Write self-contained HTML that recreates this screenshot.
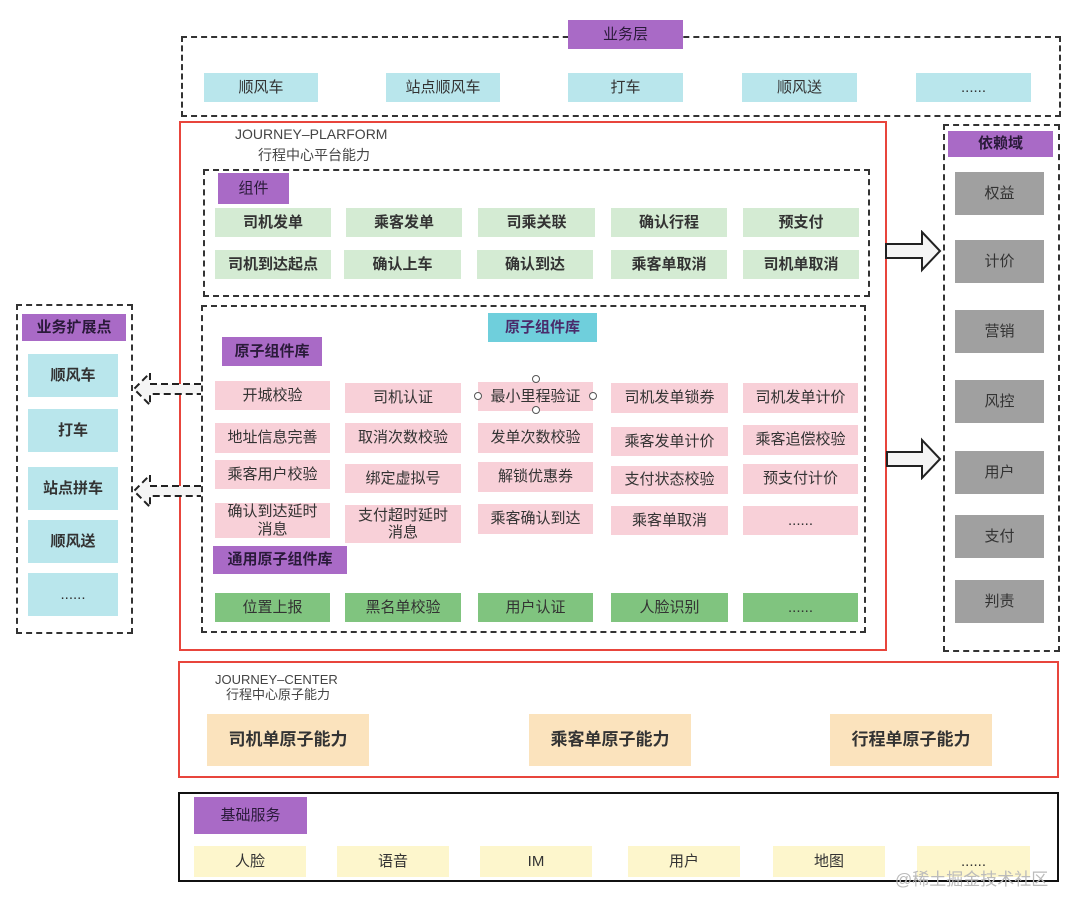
<!DOCTYPE html>
<html><head><meta charset="utf-8"><style>
body{margin:0;width:1080px;height:916px;background:#fff;position:relative;overflow:hidden;font-family:"Liberation Sans","Noto Sans CJK SC",sans-serif;}
.b{position:absolute;display:flex;align-items:center;justify-content:center;text-align:center;font-size:15px;color:#333;box-sizing:border-box;line-height:1.15}
.d{position:absolute;border:2px dashed #333;box-sizing:border-box}
.r{position:absolute;border:2.5px solid #e8453c;box-sizing:border-box}
.c{background:#b9e6ec}.p{background:#a96ac6;color:#2a1a3a}.g{background:#d4ebd3;font-weight:bold}.k{background:#f8d0d8}.gg{background:#80c47f}.gr{background:#a0a0a0;color:#333}.o{background:#fbe3bd;font-size:17px;font-weight:bold}.y{background:#fdf6cc}
.t{position:absolute;font-size:14px;color:#444;line-height:1.1}
</style></head><body>
<div class="d" style="left:181px;top:36px;width:880px;height:81px"></div>
<div class="b p" style="left:568px;top:20px;width:115px;height:29px">业务层</div>
<div class="b c" style="left:204px;top:73px;width:114px;height:29px">顺风车</div>
<div class="b c" style="left:386px;top:73px;width:114px;height:29px">站点顺风车</div>
<div class="b c" style="left:568px;top:73px;width:115px;height:29px">打车</div>
<div class="b c" style="left:742px;top:73px;width:115px;height:29px">顺风送</div>
<div class="b c" style="left:916px;top:73px;width:115px;height:29px">......</div>

<div class="r" style="left:179px;top:121px;width:708px;height:530px"></div>
<div class="t" style="left:235px;top:127px">JOURNEY–PLARFORM</div>
<div class="t" style="left:258px;top:148px">行程中心平台能力</div>
<div class="d" style="left:203px;top:169px;width:667px;height:128px"></div>
<div class="b p" style="left:218px;top:173px;width:71px;height:31px">组件</div>
<div class="b g" style="left:215px;top:208px;width:116px;height:29px">司机发单</div>
<div class="b g" style="left:346px;top:208px;width:116px;height:29px">乘客发单</div>
<div class="b g" style="left:478px;top:208px;width:117px;height:29px">司乘关联</div>
<div class="b g" style="left:611px;top:208px;width:116px;height:29px">确认行程</div>
<div class="b g" style="left:743px;top:208px;width:116px;height:29px">预支付</div>
<div class="b g" style="left:215px;top:250px;width:116px;height:29px">司机到达起点</div>
<div class="b g" style="left:344px;top:250px;width:117px;height:29px">确认上车</div>
<div class="b g" style="left:477px;top:250px;width:116px;height:29px">确认到达</div>
<div class="b g" style="left:611px;top:250px;width:116px;height:29px">乘客单取消</div>
<div class="b g" style="left:743px;top:250px;width:116px;height:29px">司机单取消</div>

<div class="d" style="left:201px;top:305px;width:665px;height:328px"></div>
<div class="b" style="left:488px;top:313px;width:109px;height:29px;background:#6fcfdc;color:#4a2b6a;font-weight:bold">原子组件库</div>
<div class="b p" style="left:222px;top:337px;width:100px;height:29px;font-weight:bold">原子组件库</div>
<div class="b k" style="left:215px;top:381px;width:115px;height:29px">开城校验</div>
<div class="b k" style="left:345px;top:383px;width:116px;height:30px">司机认证</div>
<div class="b k" style="left:478px;top:382px;width:115px;height:29px">最小里程验证</div>
<div class="b k" style="left:611px;top:383px;width:117px;height:30px">司机发单锁券</div>
<div class="b k" style="left:743px;top:383px;width:115px;height:30px">司机发单计价</div>
<div class="b k" style="left:215px;top:423px;width:115px;height:30px">地址信息完善</div>
<div class="b k" style="left:345px;top:423px;width:116px;height:30px">取消次数校验</div>
<div class="b k" style="left:478px;top:423px;width:115px;height:30px">发单次数校验</div>
<div class="b k" style="left:611px;top:427px;width:117px;height:29px">乘客发单计价</div>
<div class="b k" style="left:743px;top:425px;width:115px;height:30px">乘客追偿校验</div>
<div class="b k" style="left:215px;top:460px;width:115px;height:29px">乘客用户校验</div>
<div class="b k" style="left:345px;top:464px;width:116px;height:29px">绑定虚拟号</div>
<div class="b k" style="left:478px;top:462px;width:115px;height:30px">解锁优惠券</div>
<div class="b k" style="left:611px;top:466px;width:117px;height:28px">支付状态校验</div>
<div class="b k" style="left:743px;top:464px;width:115px;height:30px">预支付计价</div>
<div class="b k" style="left:215px;top:503px;width:115px;height:35px">确认到达延时<br>消息</div>
<div class="b k" style="left:345px;top:505px;width:116px;height:38px">支付超时延时<br>消息</div>
<div class="b k" style="left:478px;top:504px;width:115px;height:30px">乘客确认到达</div>
<div class="b k" style="left:611px;top:506px;width:117px;height:29px">乘客单取消</div>
<div class="b k" style="left:743px;top:506px;width:115px;height:29px">......</div>
<svg style="position:absolute;left:470px;top:374px" width="132" height="46"><g fill="#fff" stroke="#555" stroke-width="1"><circle cx="66" cy="5" r="3.5"/><circle cx="66" cy="36" r="3.5"/><circle cx="8" cy="22" r="3.5"/><circle cx="123" cy="22" r="3.5"/></g></svg>
<div class="b p" style="left:213px;top:546px;width:134px;height:28px;font-weight:bold">通用原子组件库</div>
<div class="b gg" style="left:215px;top:593px;width:115px;height:29px">位置上报</div>
<div class="b gg" style="left:345px;top:593px;width:116px;height:29px">黑名单校验</div>
<div class="b gg" style="left:478px;top:593px;width:115px;height:29px">用户认证</div>
<div class="b gg" style="left:611px;top:593px;width:117px;height:29px">人脸识别</div>
<div class="b gg" style="left:743px;top:593px;width:115px;height:29px">......</div>

<div class="d" style="left:16px;top:304px;width:117px;height:330px"></div>
<div class="b p" style="left:22px;top:314px;width:104px;height:27px;font-weight:bold">业务扩展点</div>
<div class="b c" style="left:28px;top:354px;width:90px;height:43px;font-weight:bold">顺风车</div>
<div class="b c" style="left:28px;top:409px;width:90px;height:43px;font-weight:bold">打车</div>
<div class="b c" style="left:28px;top:467px;width:90px;height:43px;font-weight:bold">站点拼车</div>
<div class="b c" style="left:28px;top:520px;width:90px;height:43px;font-weight:bold">顺风送</div>
<div class="b c" style="left:28px;top:573px;width:90px;height:43px">......</div>
<svg style="position:absolute;left:130px;top:370px" width="75" height="140"><g fill="#f5f5f5" stroke="#222" stroke-width="2" stroke-dasharray="7,4"><path d="M71 14 H20 V3 L4 19 L20 35 V24 H71"/><path d="M71 116 H20 V105 L4 121 L20 137 V126 H71"/></g></svg>

<div class="d" style="left:943px;top:124px;width:117px;height:528px"></div>
<div class="b p" style="left:948px;top:131px;width:105px;height:26px;font-weight:bold">依赖域</div>
<div class="b gr" style="left:955px;top:172px;width:89px;height:43px">权益</div>
<div class="b gr" style="left:955px;top:240px;width:89px;height:43px">计价</div>
<div class="b gr" style="left:955px;top:310px;width:89px;height:43px">营销</div>
<div class="b gr" style="left:955px;top:380px;width:89px;height:43px">风控</div>
<div class="b gr" style="left:955px;top:451px;width:89px;height:43px">用户</div>
<div class="b gr" style="left:955px;top:515px;width:89px;height:43px">支付</div>
<div class="b gr" style="left:955px;top:580px;width:89px;height:43px">判责</div>
<svg style="position:absolute;left:884px;top:230px" width="60" height="250"><g fill="#f5f5f5" stroke="#222" stroke-width="2"><path d="M2 14 H38 V2 L56 21 L38 40 V28 H2 Z"/><path d="M3 222 H38 V210 L56 229 L38 248 V236 H3 Z"/></g></svg>

<div class="r" style="left:178px;top:661px;width:881px;height:117px"></div>
<div class="t" style="left:215px;top:673px;font-size:13px">JOURNEY–CENTER</div>
<div class="t" style="left:226px;top:688px;font-size:13px">行程中心原子能力</div>
<div class="b o" style="left:207px;top:714px;width:162px;height:52px">司机单原子能力</div>
<div class="b o" style="left:529px;top:714px;width:162px;height:52px">乘客单原子能力</div>
<div class="b o" style="left:830px;top:714px;width:162px;height:52px">行程单原子能力</div>

<div style="position:absolute;left:178px;top:792px;width:881px;height:90px;border:2px solid #111;box-sizing:border-box"></div>
<div class="b p" style="left:194px;top:797px;width:113px;height:37px">基础服务</div>
<div class="b y" style="left:194px;top:846px;width:112px;height:31px">人脸</div>
<div class="b y" style="left:337px;top:846px;width:112px;height:31px">语音</div>
<div class="b y" style="left:480px;top:846px;width:112px;height:31px">IM</div>
<div class="b y" style="left:628px;top:846px;width:112px;height:31px">用户</div>
<div class="b y" style="left:773px;top:846px;width:112px;height:31px">地图</div>
<div class="b y" style="left:917px;top:846px;width:113px;height:31px">......</div>
<div class="t" style="left:895px;top:871px;font-size:17px;color:#bbb">@稀土掘金技术社区</div>
</body></html>
